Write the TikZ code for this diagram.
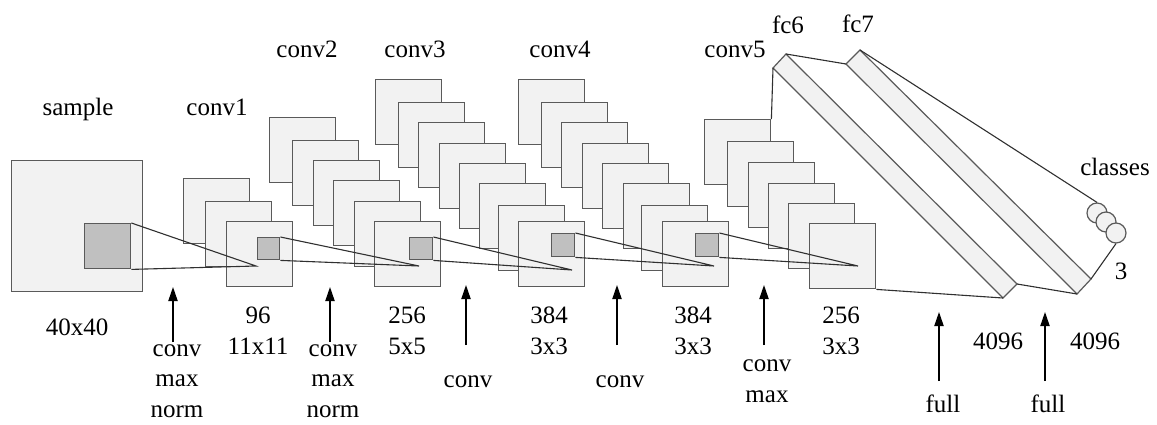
\documentclass[tikz,border=0pt]{standalone}
\usepackage{fontspec}
\setmainfont{Liberation Serif}
\usetikzlibrary{arrows.meta}
\definecolor{mapfill}{HTML}{F2F2F2}
\definecolor{mapedge}{HTML}{5A5A5A}
\definecolor{patchfill}{HTML}{C0C0C0}
\definecolor{wirecol}{HTML}{303030}
\tikzset{
  fmap/.style={draw=mapedge, fill=mapfill, line width=0.7pt, inner sep=0pt,
    anchor=north west, minimum width=33pt, minimum height=32.5pt},
  patch/.style={draw=mapedge, fill=patchfill, line width=0.7pt, inner sep=0pt,
    anchor=north west},
  wire/.style={draw=wirecol, line width=0.55pt},
  lbl/.style={font=\fontsize{12.5}{15.25}\selectfont, anchor=base, inner sep=0pt, align=center},
  uparrow/.style={draw=black, line width=0.7pt, -{Triangle[length=7pt,width=4.6pt]}},
  unit/.style={circle, draw=mapedge, fill=mapfill, line width=0.6pt,
    minimum size=10pt, inner sep=0pt},
  slab/.style={draw=mapedge, fill=mapfill, line width=0.6pt, line join=miter}
}
\begin{document}
\begin{tikzpicture}[x=0.5pt, y=-0.5pt]
\useasboundingbox (0,0) rectangle (1157,424);

% input sample with its receptive patch
\node[fmap, minimum width=65.5pt, minimum height=65.5pt] (sample) at (11,160) {};
\node[patch, minimum width=23pt, minimum height=22.5pt] (p0) at (84,223) {};

% conv1 stack
\foreach \n/\x/\y in {1/183/178, 2/205/201, 3/226/221}
  \node[fmap] (cA\n) at (\x,\y) {};
\node[patch, minimum width=11pt, minimum height=11pt] (p1) at (257,237) {};

% conv2 stack
\foreach \n/\x/\y in {1/269/117, 2/292/140, 3/313/160, 4/333/180, 5/354/201, 6/374/221}
  \node[fmap] (cB\n) at (\x,\y) {};
\node[patch, minimum width=11.5pt, minimum height=11pt] (p2) at (409,237) {};

% conv3 stack
\foreach \n/\x/\y in {1/375/79, 2/398/102, 3/418/122, 4/439/143, 5/459/163, 6/479/183, 7/498/205, 8/518/221}
  \node[fmap] (cC\n) at (\x,\y) {};
\node[patch, minimum width=11.5pt, minimum height=11.5pt] (p3) at (551,233) {};

% conv4 stack
\foreach \n/\x/\y in {1/518/79, 2/541/102, 3/561/122, 4/582/143, 5/602/163, 6/623/183, 7/641/205, 8/662/221}
  \node[fmap] (cD\n) at (\x,\y) {};
\node[patch, minimum width=11.5pt, minimum height=11.5pt] (p4) at (695,233) {};

% conv5 stack
\foreach \n/\x/\y in {1/704/119, 2/727/141, 3/748/162, 4/768/183, 5/788/203, 6/809/223}
  \node[fmap] (cE\n) at (\x,\y) {};

% apexes of the receptive-field cones
\coordinate (a0) at (256,266);
\coordinate (a1) at (419,266);
\coordinate (a2) at (572,270);
\coordinate (a3) at (714,266);
\coordinate (a4) at (858,266);

\draw[wire] (p0.north east) -- (a0) -- (p0.south east);
\draw[wire] (p1.north east) -- (a1) -- (p1.south east);
\draw[wire] (p2.north east) -- (a2) -- (p2.south east);
\draw[wire] (p3.north east) -- (a3) -- (p3.south east);
\draw[wire] (p4.north east) -- (a4) -- (p4.south east);

% fully connected slabs
\coordinate (f6a) at (773,68);
\coordinate (f6b) at (786,54);
\coordinate (f6c) at (1017,284);
\coordinate (f6d) at (1003,298);
\coordinate (f7a) at (846,64);
\coordinate (f7b) at (860,50);
\coordinate (f7c) at (1091,279);
\coordinate (f7d) at (1077,294);
\filldraw[slab] (f6a) -- (f6b) -- (f6c) -- (f6d) -- cycle;
\filldraw[slab] (f7a) -- (f7b) -- (f7c) -- (f7d) -- cycle;

% output units
\node[unit] (k1) at (1097,213) {};
\node[unit] (k2) at (1106,222) {};
\node[unit] (k3) at (1116,233) {};

\draw[wire] (cE1.north east) -- (f6a);
\draw[wire] (cE6.south east) -- (f6d);
\draw[wire] (f6b) -- (f7a);
\draw[wire] (f6c) -- (f7d);
\draw[wire] (f7b) -- (k1.north);
\draw[wire] (f7c) -- (k3.south);

% layer titles
\node[lbl] (tSample) at (78,115) {sample};
\node[lbl] (tA) at (217,115) {conv1};
\node[lbl] (tB) at (307,57) {conv2};
\node[lbl] (tC) at (415,57) {conv3};
\node[lbl] (tD) at (560,57) {conv4};
\node[lbl] (tE) at (735,57) {conv5};
\node[lbl] (tF6) at (788,33) {fc6};
\node[lbl] (tF7) at (858,32) {fc7};
\node[lbl] (tCls) at (1115,175) {classes};
\node[lbl] (tThree) at (1121,279) {3};

% sizes (anchored at the baseline of the last line)
\node[lbl] (s0) at (77,335) {40x40};
\node[lbl] (s1) at (258,354) {96\\11x11};
\node[lbl] (s2) at (407,354) {256\\5x5};
\node[lbl] (s3) at (549,354) {384\\3x3};
\node[lbl] (s4) at (693,354) {384\\3x3};
\node[lbl] (s5) at (841,354) {256\\3x3};
\node[lbl] (s6) at (998,349) {4096};
\node[lbl] (s7) at (1095,349) {4096};

% operations (anchored at the baseline of the last line)
\node[lbl] (o1) at (177,417) {conv\\max\\norm};
\node[lbl] (o2) at (333,417) {conv\\max\\norm};
\node[lbl] (o3) at (468,387) {conv};
\node[lbl] (o4) at (620,387) {conv};
\node[lbl] (o5) at (767,402) {conv\\max};
\node[lbl] (o6) at (943,412) {full};
\node[lbl] (o7) at (1048,412) {full};

\coordinate (u1b) at (173,342); \coordinate (u1t) at (173,287);
\coordinate (u2b) at (330,342); \coordinate (u2t) at (330,287);
\coordinate (u3b) at (466,345); \coordinate (u3t) at (466,285);
\coordinate (u4b) at (617,345); \coordinate (u4t) at (617,285);
\coordinate (u5b) at (764,345); \coordinate (u5t) at (764,285);
\coordinate (u6b) at (939,381); \coordinate (u6t) at (939,312);
\coordinate (u7b) at (1045,381); \coordinate (u7t) at (1045,312);
\foreach \i in {1,...,7}
  \draw[uparrow] (u\i b) -- (u\i t);
\end{tikzpicture}
\end{document}
